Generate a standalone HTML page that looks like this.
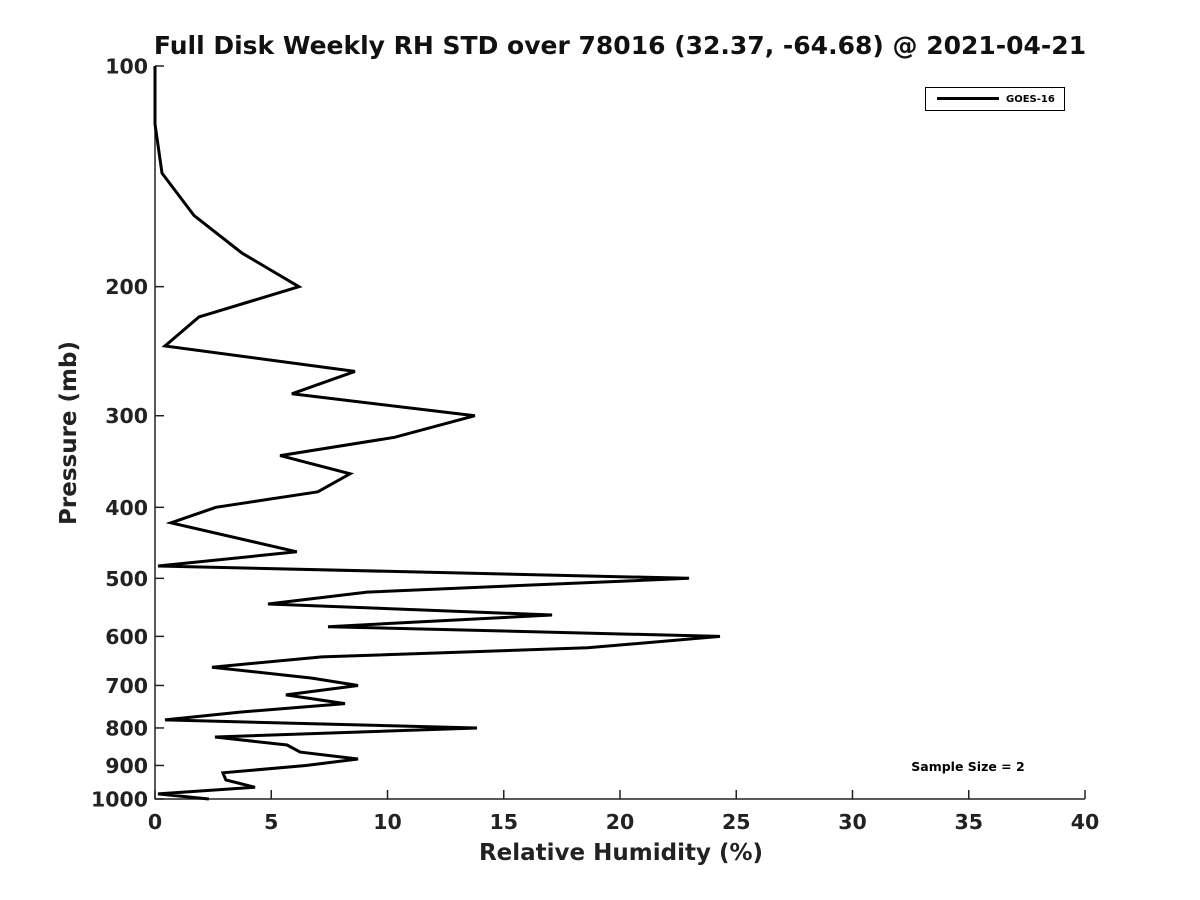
<!DOCTYPE html>
<html><head><meta charset="utf-8"><style>
body{margin:0;background:#fff;}
svg{display:block;font-family:"DejaVu Sans","Liberation Sans",sans-serif;font-weight:bold;}
</style></head><body>
<svg id="chart" width="1200" height="900" viewBox="0 0 1200 900">
<text x="620" y="54" text-anchor="middle" font-size="25" fill="#111">Full Disk Weekly RH STD over 78016 (32.37, -64.68) @ 2021-04-21</text>
<g id="axes"></g>
<path id="series" fill="none" stroke="#000" stroke-width="3" stroke-linejoin="miter"/>
<text x="621" y="860" text-anchor="middle" font-size="23" fill="#222">Relative Humidity (%)</text>
<text transform="translate(76,433) rotate(-90)" text-anchor="middle" font-size="23" fill="#222">Pressure (mb)</text>
<g>
<rect x="925.5" y="87.5" width="139" height="23" fill="#fff" stroke="#000" stroke-width="1"/>
<line x1="937" y1="98.5" x2="999" y2="98.5" stroke="#000" stroke-width="3"/>
<text x="1006" y="102" font-size="10" fill="#000">GOES-16</text>
</g>
<text x="968" y="771" text-anchor="middle" font-size="12.5" fill="#000">Sample Size = 2</text>
</svg>
<script>
const pressures=[100,120,140,160,180,200,220,241,261,280,300,321,340,360,381,400,420,460,481,500,522,542,561,582,600,622,640,661,684,700,721,741,761,780,800,823,844,863,882,900,921,942,964,984,1000];
const rhStd=[0,0,0.3,1.68,3.74,6.19,1.89,0.43,8.6,5.89,13.76,10.3,5.38,8.39,7.0,2.62,0.69,6.1,0.13,22.97,9.12,4.86,17.08,7.44,24.3,18.6,7.18,2.45,6.75,8.73,5.63,8.17,3.66,0.43,13.85,2.58,5.68,6.24,8.73,6.49,2.92,3.05,4.3,0.13,2.32];
const xTicks=[0,5,10,15,20,25,30,35,40];
const yTicks=[100,200,300,400,500,600,700,800,900,1000];
const X0=155,X1=1085,Y0=66,Y1=799;
const xs=v=>X0+(v-0)/(40-0)*(X1-X0);
const ys=p=>Y0+(Math.log10(p)-2)/(3-2)*(Y1-Y0);
const NS="http://www.w3.org/2000/svg";
const ax=document.getElementById('axes');
function mk(t,a){const e=document.createElementNS(NS,t);for(const k in a)e.setAttribute(k,a[k]);ax.appendChild(e);return e;}
let e=mk('line',{x1:X0,y1:Y0,x2:X0,y2:Y1+0.5,stroke:'#222','stroke-width':1.5});


e=mk('line',{x1:X0,y1:Y1,x2:X1,y2:Y1,stroke:'#222','stroke-width':1.5});


xTicks.forEach(v=>{
 const x=xs(v);
 mk('line',{x1:x,y1:Y1,x2:x,y2:Y1-9,stroke:'#222','stroke-width':1.5});
 const t=mk('text',{x:x,y:Y1+30,'text-anchor':'middle','font-size':20.5,fill:'#222'});
 t.textContent=v;
 
 
});
yTicks.forEach(p=>{
 const y=ys(p);
 mk('line',{x1:X0,y1:y,x2:X0+9,y2:y,stroke:'#222','stroke-width':1.5});
 const t=mk('text',{x:X0-7,y:y+7.5,'text-anchor':'end','font-size':20.5,fill:'#222'});
 t.textContent=p;
 
 
});
document.getElementById('series').setAttribute('d',pressures.map((p,i)=>(i?'L':'M')+xs(rhStd[i]).toFixed(1)+','+ys(p).toFixed(1)).join(''));
</script>
</body></html>
